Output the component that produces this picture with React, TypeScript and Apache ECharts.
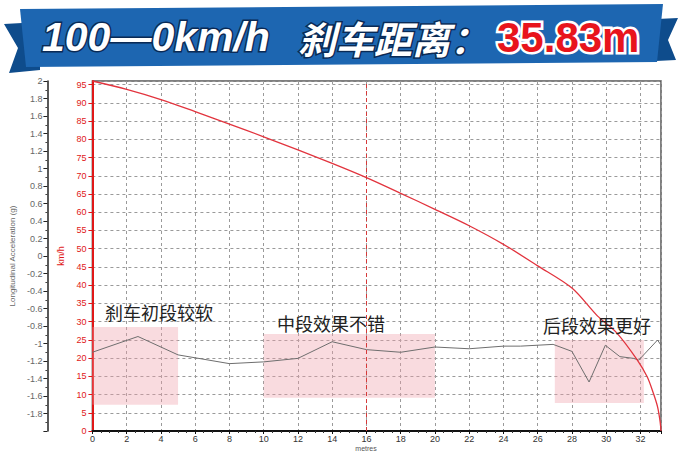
import React, { useEffect, useRef } from "react";
import * as echarts from "echarts";

// distance (m) vs speed (km/h)
const speedDist = [0, 2, 4, 6, 8, 10, 12, 14, 16, 18, 20, 22, 24, 26, 28, 29.5, 30.6, 31.8, 32.4, 32.75, 33.0, 33.15, 33.2];
const speedVals = [96, 93.7, 90.9, 87.6, 84.2, 80.7, 77.1, 73.4, 69.5, 65.2, 60.8, 56.3, 51.2, 45.3, 39.2, 31.5, 27, 19.6, 14.8, 10.4, 6.6, 2.5, 0];

// distance (m) vs longitudinal acceleration (g)
const accDist = [0, 2.66, 5.0, 8.0, 10.0, 12.0, 14.0, 16.0, 18.0, 20.0, 22, 24, 25, 26.9, 28.0, 29.0, 29.95, 30.8, 31.6, 31.9, 33.0, 33.2];
const accVals = [-1.10, -0.92, -1.13, -1.23, -1.21, -1.17, -0.98, -1.07, -1.10, -1.04, -1.06, -1.03, -1.03, -1.01, -1.09, -1.44, -1.02, -1.15, -1.17, -1.19, -0.96, -1.02];

// highlighted phases
const phaseNames = ["刹车初段较软", "中段效果不错", "后段效果更好"];
const phaseX0 = [0, 10, 27];
const phaseX1 = [5, 20, 32.2];
const phaseTop = [-0.81, -0.89, -0.96];
const phaseBottom = [-1.7, -1.62, -1.68];

const markLineX = 16;
const titleMain = "100—0km/h";
const titleCn = "刹车距离：";
const titleValue = "35.83m";

export default function App() {
  const ref = useRef<HTMLDivElement>(null);
  useEffect(() => {
    document.body.style.margin = "0";
    if (!ref.current) return;
    const chart = echarts.init(ref.current, undefined, { renderer: "svg" });
    const dash = { type: [3, 3] as any, color: "#9a9a9a", width: 1 };
    const option: any = {
      animation: false,
      backgroundColor: "#fff",
      grid: { left: 91, right: 19, top: 81, bottom: 22, show: true, borderColor: "#555", borderWidth: 1.5, containLabel: false },
      xAxis: {
        type: "value",
        min: 0,
        max: 33.2,
        interval: 2,
        axisLine: { lineStyle: { color: "#111", width: 2 } },
        axisTick: { length: 3, lineStyle: { color: "#111" } },
        minorTick: { show: true, splitNumber: 4, length: 2, lineStyle: { color: "#333" } },
        axisLabel: { color: "#333", fontSize: 9, margin: 3, showMaxLabel: false, fontFamily: "Liberation Sans" },
        splitLine: { show: true, lineStyle: dash },
      },
      yAxis: [
        {
          type: "value",
          min: 0,
          max: 96,
          interval: 5,
          position: "left",
          name: "km/h",
          nameLocation: "middle",
          nameRotate: 90,
          nameGap: 19,
          nameTextStyle: { color: "#e01818", fontSize: 9, fontFamily: "Liberation Sans" },
          axisLine: { show: true, lineStyle: { color: "#e01818", width: 2 } },
          axisTick: { show: true, length: 4, lineStyle: { color: "#e01818" } },
          axisLabel: { color: "#e01818", fontSize: 9, margin: 6, showMaxLabel: false, fontFamily: "Liberation Sans" },
          splitLine: { show: true, lineStyle: dash },
        },
        {
          type: "value",
          min: -2,
          max: 2,
          interval: 0.2,
          position: "left",
          offset: 45,
          name: "Longitudinal Acceleration (g)",
          nameLocation: "middle",
          nameRotate: 90,
          nameGap: 25,
          nameTextStyle: { color: "#666", fontSize: 8, fontFamily: "Liberation Sans" },
          axisLine: { show: true, lineStyle: { color: "#222", width: 1.5 } },
          axisTick: { show: true, length: 4, lineStyle: { color: "#222" } },
          minorTick: { show: true, splitNumber: 2, length: 2, lineStyle: { color: "#444" } },
          axisLabel: { color: "#666", fontSize: 9, margin: 5, showMinLabel: false, fontFamily: "Liberation Sans" },
          splitLine: { show: false },
        },
      ],
      series: [
        {
          type: "line",
          yAxisIndex: 1,
          data: accDist.map((d, i) => [d, accVals[i]]),
          symbol: "none",
          lineStyle: { color: "#6e6e6e", width: 1 },
          z: 3,
          markArea: {
            silent: true,
            itemStyle: { color: "rgba(240,160,172,0.38)" },
            data: phaseX0.map((x0, i) => [
              { xAxis: x0, yAxis: phaseTop[i] },
              { xAxis: phaseX1[i], yAxis: phaseBottom[i] },
            ]),
          },
        },
        {
          type: "line",
          yAxisIndex: 0,
          data: speedDist.map((d, i) => [d, speedVals[i]]),
          symbol: "none",
          smooth: 0.3,
          lineStyle: { color: "#e2343e", width: 1.3 },
          z: 4,
          markLine: {
            silent: true,
            symbol: "none",
            label: { show: false },
            lineStyle: { color: "#d63a3a", type: [4, 3], width: 1 },
            data: [{ xAxis: markLineX }],
          },
        },
      ],
      graphic: [
        { type: "polygon", shape: { points: [[4, 24], [40, 22], [40, 70], [9, 73], [18, 48]] }, style: { fill: "#0e4c8c" }, z: 1 },
        { type: "polygon", shape: { points: [[636, 20], [678, 18], [668, 40], [676, 60], [636, 62]] }, style: { fill: "#0e4c8c" }, z: 1 },
        { type: "polygon", shape: { points: [[20, 9], [663, 4], [657, 62], [26, 67]] }, style: { fill: "#1d66b1" }, z: 2 },
        {
          type: "text", x: 42, y: 37, z: 3,
          style: { text: titleMain, fill: "#fff", stroke: "#0a2a55", lineWidth: 3, font: "italic bold 41px 'Liberation Sans'", textVerticalAlign: "middle" },
        },
        {
          type: "text", x: 298, y: 37, z: 3,
          style: { text: titleCn, fill: "#fff", stroke: "#0a2a55", lineWidth: 3, font: "italic bold 38px 'Noto Sans CJK SC'", textVerticalAlign: "middle" },
        },
        {
          type: "text", x: 497, y: 37, z: 3,
          style: { text: titleValue, fill: "#e8141c", stroke: "#fff", lineWidth: 5, font: "bold 42px 'Liberation Sans'", textVerticalAlign: "middle" },
        },
        ...phaseNames.map((t, i) => ({
          type: "text",
          x: [105, 277, 543][i],
          y: [312, 323, 325][i],
          z: 10,
          style: { text: t, fill: "#222", font: "18px 'Noto Sans CJK SC'", textVerticalAlign: "middle" },
        })),
        {
          type: "text", x: 366, y: 448, z: 10,
          style: { text: "metres", fill: "#555", font: "7px 'Liberation Sans'", textAlign: "center", textVerticalAlign: "middle" },
        },
      ],
    };
    chart.setOption(option);
    return () => chart.dispose();
  }, []);
  return <div ref={ref} style={{ width: 680, height: 453 }} />;
}
